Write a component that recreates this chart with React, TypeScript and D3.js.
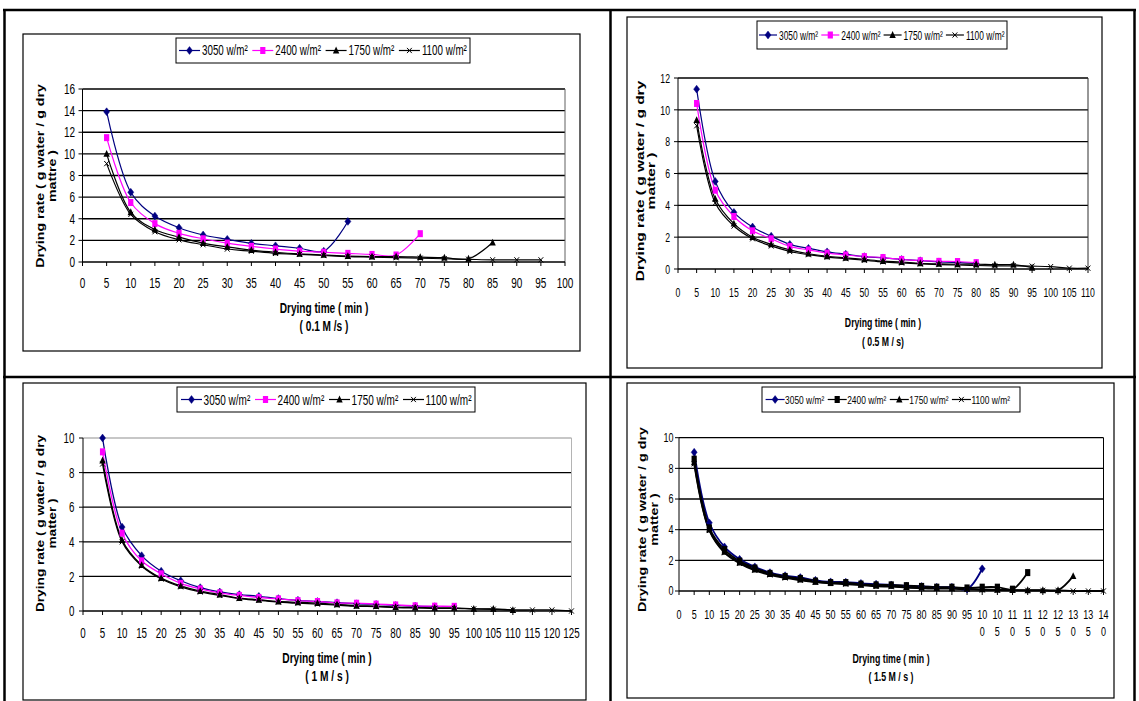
import React from "react";
import * as d3 from "d3";

// ---------- text ----------
const LEGEND_LABELS = ["3050 w/m²", "2400 w/m²", "1750 w/m²", "1100 w/m²"];
const Y_TITLE_LINE1 = "Drying rate ( g water / g dry";
const Y_TITLE_LINE2 = ["mattre )", "matter )", "matter )", "matter )"];
const X_TITLE = "Drying time ( min )";
const X_SUBTITLES = ["( 0.1 M /s )", "( 0.5 M / s)", "( 1 M / s )", "( 1.5 M / s )"];

// ---------- panel 1 (0.1 M/s) ----------
const P1_TIMES = [5, 10, 15, 20, 25, 30, 35, 40, 45, 50, 55, 60, 65, 70, 75, 80, 85, 90, 95];
const P1_3050 = [13.9, 6.45, 4.25, 3.17, 2.5, 2.1, 1.73, 1.5, 1.27, 1.0, 3.75];
const P1_2400 = [11.5, 5.5, 3.55, 2.65, 2.15, 1.75, 1.45, 1.2, 1.0, 0.9, 0.8, 0.7, 0.65, 2.62];
const P1_1750 = [10.0, 4.6, 3.0, 2.3, 1.75, 1.4, 1.1, 0.9, 0.75, 0.65, 0.55, 0.5, 0.5, 0.45, 0.4, 0.3, 1.8];
const P1_1100 = [9.1, 4.4, 2.8, 2.05, 1.6, 1.2, 1.0, 0.8, 0.7, 0.6, 0.5, 0.45, 0.4, 0.35, 0.3, 0.25, 0.2, 0.2, 0.2];
const P1_X_TICKS = [0, 5, 10, 15, 20, 25, 30, 35, 40, 45, 50, 55, 60, 65, 70, 75, 80, 85, 90, 95, 100];
const P1_X_LABELS = [["0"], ["5"], ["10"], ["15"], ["20"], ["25"], ["30"], ["35"], ["40"], ["45"], ["50"], ["55"], ["60"], ["65"], ["70"], ["75"], ["80"], ["85"], ["90"], ["95"], ["100"]];
const P1_Y_TICKS = [0, 2, 4, 6, 8, 10, 12, 14, 16];

// ---------- panel 2 (0.5 M/s) ----------
const P2_TIMES = [5, 10, 15, 20, 25, 30, 35, 40, 45, 50, 55, 60, 65, 70, 75, 80, 85, 90, 95, 100, 105, 110];
const P2_3050 = [11.3, 5.5, 3.56, 2.64, 2.06, 1.55, 1.3, 1.08, 0.93, 0.78, 0.7, 0.6, 0.52, 0.45, 0.4, 0.35];
const P2_2400 = [10.4, 4.95, 3.3, 2.4, 1.9, 1.42, 1.2, 1.0, 0.88, 0.78, 0.72, 0.6, 0.52, 0.48, 0.47, 0.4];
const P2_1750 = [9.35, 4.4, 2.85, 2.0, 1.55, 1.2, 0.96, 0.8, 0.7, 0.6, 0.5, 0.44, 0.36, 0.32, 0.3, 0.3, 0.27, 0.27, 0.08];
const P2_1100 = [9.0, 4.15, 2.7, 1.9, 1.45, 1.1, 0.9, 0.75, 0.65, 0.55, 0.45, 0.38, 0.32, 0.28, 0.25, 0.22, 0.2, 0.2, 0.18, 0.15, 0.05, 0.05];
const P2_X_TICKS = [0, 5, 10, 15, 20, 25, 30, 35, 40, 45, 50, 55, 60, 65, 70, 75, 80, 85, 90, 95, 100, 105, 110];
const P2_X_LABELS = [["0"], ["5"], ["10"], ["15"], ["20"], ["25"], ["30"], ["35"], ["40"], ["45"], ["50"], ["55"], ["60"], ["65"], ["70"], ["75"], ["80"], ["85"], ["90"], ["95"], ["100"], ["105"], ["110"]];
const P2_Y_TICKS = [0, 2, 4, 6, 8, 10, 12];

// ---------- panel 3 (1 M/s) ----------
const P3_TIMES = [5, 10, 15, 20, 25, 30, 35, 40, 45, 50, 55, 60, 65, 70, 75, 80, 85, 90, 95, 100, 105, 110, 115, 120, 125];
const P3_3050 = [10.0, 4.85, 3.2, 2.3, 1.75, 1.35, 1.1, 0.95, 0.85, 0.72, 0.62, 0.55, 0.48, 0.42, 0.38, 0.32, 0.28, 0.25];
const P3_2400 = [9.2, 4.5, 2.9, 2.15, 1.6, 1.28, 1.05, 0.9, 0.78, 0.7, 0.6, 0.55, 0.47, 0.45, 0.4, 0.35, 0.3, 0.28, 0.27];
const P3_1750 = [8.7, 4.1, 2.65, 1.9, 1.45, 1.15, 0.95, 0.75, 0.65, 0.55, 0.5, 0.45, 0.38, 0.3, 0.28, 0.22, 0.2, 0.18, 0.18, 0.12, 0.12, 0.05];
const P3_1100 = [8.5, 4.0, 2.6, 1.85, 1.4, 1.1, 0.9, 0.72, 0.62, 0.52, 0.45, 0.4, 0.34, 0.28, 0.25, 0.2, 0.18, 0.15, 0.15, 0.12, 0.1, 0.06, 0.06, 0.06, 0.0];
const P3_X_TICKS = [0, 5, 10, 15, 20, 25, 30, 35, 40, 45, 50, 55, 60, 65, 70, 75, 80, 85, 90, 95, 100, 105, 110, 115, 120, 125];
const P3_X_LABELS = [["0"], ["5"], ["10"], ["15"], ["20"], ["25"], ["30"], ["35"], ["40"], ["45"], ["50"], ["55"], ["60"], ["65"], ["70"], ["75"], ["80"], ["85"], ["90"], ["95"], ["100"], ["105"], ["110"], ["115"], ["120"], ["125"]];
const P3_Y_TICKS = [0, 2, 4, 6, 8, 10];

// ---------- panel 4 (1.5 M/s) ----------
const P4_TIMES = [5, 10, 15, 20, 25, 30, 35, 40, 45, 50, 55, 60, 65, 70, 75, 80, 85, 90, 95, 100, 105, 110, 115, 120, 125, 130, 135, 140];
const P4_3050 = [9.05, 4.45, 2.88, 2.07, 1.58, 1.2, 1.0, 0.88, 0.7, 0.6, 0.58, 0.5, 0.45, 0.4, 0.33, 0.3, 0.25, 0.25, 0.12, 1.45];
const P4_2400 = [8.6, 4.12, 2.7, 1.95, 1.5, 1.15, 0.95, 0.82, 0.65, 0.55, 0.55, 0.45, 0.4, 0.4, 0.35, 0.3, 0.25, 0.25, 0.2, 0.25, 0.25, 0.12, 1.2];
const P4_1750 = [8.4, 4.0, 2.55, 1.85, 1.4, 1.1, 0.9, 0.75, 0.6, 0.55, 0.5, 0.42, 0.35, 0.33, 0.25, 0.22, 0.2, 0.18, 0.15, 0.1, 0.08, 0.06, 0.05, 0.05, 0.05, 0.97];
const P4_1100 = [8.3, 3.95, 2.5, 1.8, 1.35, 1.05, 0.85, 0.7, 0.58, 0.5, 0.45, 0.38, 0.3, 0.28, 0.22, 0.18, 0.15, 0.15, 0.1, 0.08, 0.06, 0.05, 0.04, 0.04, 0.04, 0.0, 0.0, 0.0];
const P4_X_TICKS = [0, 5, 10, 15, 20, 25, 30, 35, 40, 45, 50, 55, 60, 65, 70, 75, 80, 85, 90, 95, 100, 105, 110, 115, 120, 125, 130, 135, 140];
const P4_X_LABELS = [["0"], ["5"], ["10"], ["15"], ["20"], ["25"], ["30"], ["35"], ["40"], ["45"], ["50"], ["55"], ["60"], ["65"], ["70"], ["75"], ["80"], ["85"], ["90"], ["95"], ["10", "0"], ["10", "5"], ["11", "0"], ["11", "5"], ["12", "0"], ["12", "5"], ["13", "0"], ["13", "5"], ["14", "0"]];
const P4_Y_TICKS = [0, 2, 4, 6, 8, 10];

// ---------- layout / style (not data) ----------
const NAVY = "#000080";
const MAGENTA = "#FF00FF";
const BLACK = "#000000";
const FONT = "'Liberation Sans', Arial, Helvetica, sans-serif";

const PANELS = [
  {
    times: P1_TIMES, series: [P1_3050, P1_2400, P1_1750, P1_1100], colors: [NAVY, MAGENTA, BLACK, BLACK],
    xTicks: P1_X_TICKS, xLabels: P1_X_LABELS, yTicks: P1_Y_TICKS,
    box: { l: 23, t: 34, r: 580, b: 351 },
    plot: { l: 82.5, r: 565, t: 89, b: 262 }, xMax: 100, yMax: 16,
    tick: { fs: 10, sy: 1.4, xc: 283, yr: 75, l2: 17 },
    legend: { x: 176, y: 38, w: 294, h: 25, e0: 179, ew: 73.3, ll: 21, to: 23, fs: 9.8, sy: 1.42 },
    yTitle: { x1: 43.6, x2: 56, cy: 176, fs: 10, sy: 1.42 },
    xTitle: { cx: 324, y1: 312.7, y2: 330.5, fs: 10.1, sy: 1.4 },
    lw: 1.2, topGrid: BLACK, border: "#606060",
  },
  {
    times: P2_TIMES, series: [P2_3050, P2_2400, P2_1750, P2_1100], colors: [NAVY, MAGENTA, BLACK, BLACK],
    xTicks: P2_X_TICKS, xLabels: P2_X_LABELS, yTicks: P2_Y_TICKS,
    box: { l: 627, t: 17, r: 1102, b: 368 },
    plot: { l: 678, r: 1088, t: 78, b: 269 }, xMax: 110, yMax: 12,
    tick: { fs: 8.7, sy: 1.55, xc: 292, yr: 670, l2: 17 },
    legend: { x: 757, y: 21, w: 250, h: 28, e0: 759, ew: 62.3, ll: 18, to: 20, fs: 8.4, sy: 1.55 },
    yTitle: { x1: 644, x2: 655, cy: 181, fs: 10, sy: 1.55 },
    xTitle: { cx: 883, y1: 327, y2: 345.5, fs: 8.7, sy: 1.5 },
    lw: 1.2, topGrid: BLACK, border: "#303030",
  },
  {
    times: P3_TIMES, series: [P3_3050, P3_2400, P3_1750, P3_1100], colors: [NAVY, MAGENTA, BLACK, BLACK],
    xTicks: P3_X_TICKS, xLabels: P3_X_LABELS, yTicks: P3_Y_TICKS,
    box: { l: 23, t: 383, r: 586, b: 700 },
    plot: { l: 83, r: 571.5, t: 438, b: 611 }, xMax: 125, yMax: 10,
    tick: { fs: 9.8, sy: 1.5, xc: 632.3, yr: 74.5, l2: 17 },
    legend: { x: 177, y: 387, w: 298, h: 25, e0: 181, ew: 74, ll: 21, to: 22.6, fs: 10, sy: 1.49 },
    yTitle: { x1: 43.5, x2: 56, cy: 523.5, fs: 10, sy: 1.37 },
    xTitle: { cx: 327, y1: 663, y2: 681, fs: 10.2, sy: 1.45 },
    lw: 1.3, topGrid: "#b4b4b4", border: "#b4b4b4",
  },
  {
    times: P4_TIMES, series: [P4_3050, P4_2400, P4_1750, P4_1100], colors: [NAVY, BLACK, BLACK, BLACK],
    xTicks: P4_X_TICKS, xLabels: P4_X_LABELS, yTicks: P4_Y_TICKS,
    box: { l: 627, t: 383, r: 1114, b: 698 },
    plot: { l: 679, r: 1103.5, t: 437.7, b: 591 }, xMax: 140, yMax: 10,
    tick: { fs: 9, sy: 1.38, xc: 614.3, yr: 673.6, l2: 17.4 },
    legend: { x: 762, y: 387, w: 258, h: 25, e0: 765.6, ew: 62.1, ll: 19, to: 19.5, fs: 8.4, sy: 1.38 },
    yTitle: { x1: 646, x2: 658, cy: 519.5, fs: 10, sy: 1.43 },
    xTitle: { cx: 891, y1: 663, y2: 681, fs: 8.8, sy: 1.5 },
    lw: 1.8, topGrid: BLACK, border: BLACK,
  },
];

type TProps = { x: number; y: number; fs: number; sy: number; anchor?: string; bold?: boolean; rotate?: boolean; children: React.ReactNode };
function T({ x, y, fs, sy, anchor = "middle", bold = false, rotate = false, children }: TProps) {
  return (
    <text
      transform={`translate(${x},${y}) scale(1,${sy})${rotate ? " rotate(-90)" : ""}`}
      fontSize={fs}
      fontFamily={FONT}
      fontWeight={bold ? "bold" : "normal"}
      textAnchor={anchor}
      fill="#000"
    >
      {children}
    </text>
  );
}

function Marker({ kind, cx, cy, color }: { kind: number; cx: number; cy: number; color: string }) {
  const tr = `translate(${cx},${cy})`;
  if (kind === 0) return <path transform={tr} d="M0,-3.9L3,0L0,3.9L-3,0Z" fill={color} stroke={color} strokeWidth={0.5} />;
  if (kind === 1) return <rect transform={tr} x={-2.6} y={-3.5} width={5.2} height={7} fill={color} />;
  if (kind === 2) return <path transform={tr} d="M0,-3.9L3.2,2.9L-3.2,2.9Z" fill={color} />;
  return <path transform={tr} d="M-2.4,-2.6L2.4,2.6M-2.4,2.6L2.4,-2.6" stroke={color} strokeWidth={1} fill="none" />;
}

function Panel({ P, idx }: { P: any; idx: number }) {
  const x = d3.scaleLinear().domain([0, P.xMax]).range([P.plot.l, P.plot.r]);
  const y = d3.scaleLinear().domain([0, P.yMax]).range([P.plot.b, P.plot.t]);
  const line = d3
    .line<[number, number]>()
    .x((d) => x(d[0]))
    .y((d) => y(d[1]))
    .curve(d3.curveCatmullRom.alpha(0.5));
  const pts = (vals: number[]) => vals.map((v, i) => [P.times[i], v] as [number, number]);
  const dh = (fs: number, sy: number) => 0.716 * fs * sy;
  const lg = P.legend;
  const lgCy = lg.y + lg.h / 2;
  return (
    <g>
      <rect x={P.box.l} y={P.box.t} width={P.box.r - P.box.l} height={P.box.b - P.box.t} fill="#fff" stroke="#000" strokeWidth={1.2} />
      {/* gridlines */}
      {P.yTicks.filter((t: number) => t > 0).map((t: number, i: number) => (
        <line key={"g" + i} x1={P.plot.l} x2={P.plot.r} y1={y(t)} y2={y(t)}
          stroke={t === P.yMax ? P.topGrid : BLACK} strokeWidth={1.3} />
      ))}
      <line x1={P.plot.r} x2={P.plot.r} y1={P.plot.t} y2={P.plot.b} stroke={P.border} strokeWidth={1} />
      {/* axes */}
      <line x1={P.plot.l} x2={P.plot.l} y1={P.plot.t} y2={P.plot.b} stroke="#000" strokeWidth={1} />
      <line x1={P.plot.l} x2={P.plot.r} y1={P.plot.b} y2={P.plot.b} stroke="#000" strokeWidth={1.3} />
      {P.yTicks.map((t: number, i: number) => (
        <g key={"yt" + i}>
          <line x1={P.plot.l - 4} x2={P.plot.l} y1={y(t)} y2={y(t)} stroke="#000" strokeWidth={1} />
          <T x={P.tick.yr} y={y(t) + dh(P.tick.fs, P.tick.sy) / 2} fs={P.tick.fs} sy={P.tick.sy} anchor="end">{String(t)}</T>
        </g>
      ))}
      {P.xTicks.map((t: number, i: number) => (
        <g key={"xt" + i}>
          <line x1={x(t)} x2={x(t)} y1={P.plot.b} y2={P.plot.b + 4} stroke="#000" strokeWidth={1} />
          {P.xLabels[i].map((s: string, j: number) => (
            <T key={j} x={x(t)} y={P.tick.xc + j * P.tick.l2 + dh(P.tick.fs, P.tick.sy) / 2} fs={P.tick.fs} sy={P.tick.sy}>{s}</T>
          ))}
        </g>
      ))}
      {/* series */}
      {P.series.map((vals: number[], k: number) => (
        <path key={"s" + k} d={line(pts(vals)) || ""} fill="none" stroke={P.colors[k]} strokeWidth={P.lw} />
      ))}
      {P.series.map((vals: number[], k: number) => (
        <g key={"m" + k}>
          {pts(vals).map((p, i) => (
            <Marker key={i} kind={k} cx={x(p[0])} cy={y(p[1])} color={P.colors[k]} />
          ))}
        </g>
      ))}
      {/* legend */}
      <rect x={lg.x} y={lg.y} width={lg.w} height={lg.h} fill="#fff" stroke="#000" strokeWidth={1} />
      {LEGEND_LABELS.map((lab, k) => {
        const ex = lg.e0 + k * lg.ew;
        return (
          <g key={"l" + k}>
            <line x1={ex} x2={ex + lg.ll} y1={lgCy} y2={lgCy} stroke={P.colors[k]} strokeWidth={1.2} />
            <Marker kind={k} cx={ex + lg.ll / 2} cy={lgCy} color={P.colors[k]} />
            <T x={ex + lg.to} y={lgCy + dh(lg.fs, lg.sy) / 2} fs={lg.fs} sy={lg.sy} anchor="start">{lab}</T>
          </g>
        );
      })}
      {/* axis titles */}
      <T x={P.yTitle.x1} y={P.yTitle.cy} fs={P.yTitle.fs} sy={P.yTitle.sy} bold rotate>{Y_TITLE_LINE1}</T>
      <T x={P.yTitle.x2} y={P.yTitle.cy} fs={P.yTitle.fs} sy={P.yTitle.sy} bold rotate>{Y_TITLE_LINE2[idx]}</T>
      <T x={P.xTitle.cx} y={P.xTitle.y1} fs={P.xTitle.fs} sy={P.xTitle.sy} bold>{X_TITLE}</T>
      <T x={P.xTitle.cx} y={P.xTitle.y2} fs={P.xTitle.fs} sy={P.xTitle.sy} bold>{X_SUBTITLES[idx]}</T>
    </g>
  );
}

export default function App() {
  return (
    <svg width={1139} height={701} style={{ position: "absolute", left: 0, top: 0, background: "#fff" }}>
      <rect x={0} y={0} width={1139} height={701} fill="#fff" />
      {PANELS.map((P, i) => (
        <Panel key={i} P={P} idx={i} />
      ))}
      {/* table rules */}
      <line x1={3} x2={1136} y1={10} y2={10} stroke="#000" strokeWidth={2.5} />
      <line x1={4.5} x2={4.5} y1={9} y2={701} stroke="#000" strokeWidth={2.5} />
      <line x1={610.5} x2={610.5} y1={9} y2={701} stroke="#000" strokeWidth={2.5} />
      <line x1={1134.5} x2={1134.5} y1={9} y2={701} stroke="#000" strokeWidth={2.5} />
      <line x1={3} x2={1136} y1={377} y2={377} stroke="#000" strokeWidth={2.5} />
    </svg>
  );
}
